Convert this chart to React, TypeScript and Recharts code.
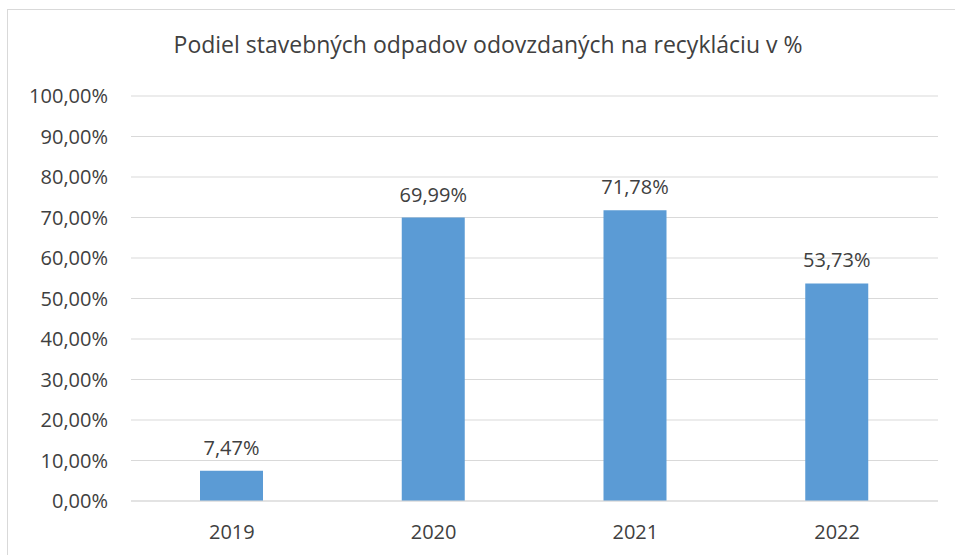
import { BarChart, Bar, CartesianGrid, XAxis, YAxis, LabelList } from "recharts";

const years = ["2019", "2020", "2021", "2022"];
const shares = [7.47, 69.99, 71.78, 53.73];
const yTicks = [0, 10, 20, 30, 40, 50, 60, 70, 80, 90, 100];

const data = years.map((year, i) => ({ year, share: shares[i] }));

const fmt = (v: number) => v.toFixed(2).replace(".", ",") + "%";

const FONT = "'Open Sans', 'Noto Sans', sans-serif";
const TEXT = "#404040";

export default function App() {
  return (
    <div style={{ position: "fixed", left: 0, top: 0, width: 955, height: 555, overflow: "hidden", background: "#fff" }}>
      <div
        style={{
          position: "absolute",
          left: 7,
          top: 9,
          width: 1000,
          height: 600,
          border: "1.5px solid #D9D9D9",
          boxSizing: "border-box",
        }}
      />
      <div
        style={{
          position: "absolute",
          left: 0,
          width: 976,
          top: 28,
          textAlign: "center",
          fontFamily: FONT,
          fontSize: 23,
          color: TEXT,
          whiteSpace: "nowrap",
        }}
      >
        Podiel stavebných odpadov odovzdaných na recykláciu v %
      </div>
      <div style={{ position: "absolute", left: 0, top: 0 }}>
        <BarChart width={955} height={555} data={data} margin={{ top: 96, right: 17, bottom: 24, left: 0 }}>
          <CartesianGrid vertical={false} stroke="#D9D9D9" strokeWidth={1.2} />
          <XAxis
            dataKey="year"
            axisLine={{ stroke: "#D9D9D9", strokeWidth: 1.2 }}
            tickLine={false}
            tickMargin={18}
            tick={{ fill: TEXT, fontSize: 20, fontFamily: FONT }}
          />
          <YAxis
            width={131}
            domain={[0, 100]}
            ticks={yTicks}
            interval={0}
            axisLine={false}
            tickLine={false}
            tickMargin={17}
            tickFormatter={fmt}
            tick={{ fill: TEXT, fontSize: 20, fontFamily: FONT }}
          />
          <Bar dataKey="share" fill="#5B9BD5" barSize={63} isAnimationActive={false}>
            <LabelList
              dataKey="share"
              position="top"
              offset={16}
              formatter={(v: number) => fmt(v)}
              style={{ fill: TEXT, fontSize: 20, fontFamily: FONT }}
            />
          </Bar>
        </BarChart>
      </div>
    </div>
  );
}
